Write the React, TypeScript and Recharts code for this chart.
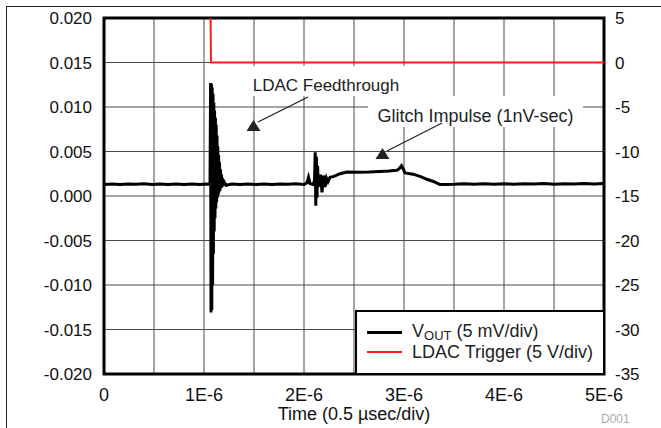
import React from 'react';
import {
  ComposedChart, Line, XAxis, YAxis, CartesianGrid, Legend,
  ReferenceArea, ReferenceDot, Label,
} from 'recharts';

const FONT = '"Liberation Sans", Arial, sans-serif';

// axis ticks (time in µs, left axis in V, right axis in V)
const timeTicks = [0, 0.5, 1, 1.5, 2, 2.5, 3, 3.5, 4, 4.5, 5];
const timeTickLabels = ['0', '', '1E-6', '', '2E-6', '', '3E-6', '', '4E-6', '', '5E-6'];
const voutTicks = [0.02, 0.015, 0.01, 0.005, 0, -0.005, -0.01, -0.015, -0.02];
const trigTicks = [5, 0, -5, -10, -15, -20, -25, -30, -35];
const seriesNames = ['VOUT (5 mV/div)', 'LDAC Trigger (5 V/div)'];

// VOUT trace
const voutTime = [
  0, 0.08, 0.16, 0.24, 0.32, 0.4, 0.48, 0.56, 0.64, 0.72, 0.8, 0.88, 0.96, 1.02, 1.06,
  1.066, 1.07, 1.074, 1.078, 1.082, 1.086, 1.09, 1.094, 1.098, 1.102, 1.106, 1.11,
  1.114, 1.118, 1.122, 1.126, 1.13, 1.134, 1.138, 1.142, 1.146, 1.15, 1.155, 1.16,
  1.165, 1.17, 1.175, 1.18, 1.186, 1.192, 1.2, 1.22,
  1.28, 1.36, 1.44, 1.52, 1.6, 1.68, 1.76, 1.84, 1.92, 2.0, 2.03,
  2.045, 2.06, 2.09, 2.105, 2.112, 2.118, 2.124, 2.13, 2.136, 2.142, 2.15,
  2.165, 2.18, 2.195, 2.21, 2.225, 2.24, 2.26, 2.3, 2.36, 2.43, 2.55, 2.65, 2.76,
  2.85, 2.93, 2.955, 2.975, 2.99, 3.01, 3.09, 3.16, 3.23, 3.3, 3.36, 3.42,
  3.5, 3.6, 3.7, 3.8, 3.9, 4.0, 4.1, 4.2, 4.3, 4.4, 4.5, 4.6, 4.7, 4.8, 4.9, 5.0,
];
const voutLevel = [
  0.0013, 0.00136, 0.00128, 0.00134, 0.00131, 0.00137, 0.00129, 0.00135, 0.0013, 0.00136, 0.00128, 0.00134, 0.0013, 0.00135, 0.0013,
  0.0127, -0.0131, 0.0126, -0.0128, 0.0122, -0.01, 0.0115, -0.0065, 0.0105, -0.004, 0.0096, -0.0025,
  0.0088, -0.0014, 0.008, -0.0007, 0.0068, -0.0002, 0.0056, 0.0001, 0.0046, 0.0004, 0.0038, 0.0006,
  0.003, 0.0009, 0.0024, 0.001, 0.0019, 0.0012, 0.0016, 0.0012,
  0.00135, 0.00128, 0.00134, 0.0013, 0.00136, 0.00129, 0.00135, 0.00131, 0.00137, 0.0013, 0.0015,
  0.0021, 0.0014, 0.0013, 0.0017, 0.0049, -0.0011, 0.0044, -0.0002, 0.0034, 0.001, 0.0016,
  0.0024, 0.0004, 0.0023, 0.001, 0.002, 0.0016, 0.0021, 0.0022, 0.0025, 0.0027, 0.00268, 0.0027, 0.00275,
  0.0028, 0.0029, 0.0031, 0.0034, 0.0031, 0.0026, 0.00245, 0.0022, 0.00188, 0.0016, 0.00128, 0.0013,
  0.00132, 0.00138, 0.00131, 0.00137, 0.00133, 0.00139, 0.00132, 0.00138, 0.00134, 0.0014, 0.00133, 0.00139, 0.00135, 0.0014, 0.00136, 0.0014,
];

// LDAC trigger (right axis), high level sits above the top of the screen
const trigTime = [0, 1.065, 1.07, 5];
const trigLevel = [6, 6, 0, 0];

// annotation arrows: shaft start (near the text) and end (near the head)
const ldacArrowTime = [2.04, 1.54];
const ldacArrowLevel = [0.01112, 0.00831];
const glitchArrowTime = [3.38, 2.83];
const glitchArrowLevel = [0.0082, 0.00506];

const voutData = voutTime.map((t, i) => ({ t, v: voutLevel[i] }));
const trigData = trigTime.map((t, i) => ({ t, v: trigLevel[i] }));

const Arrowhead = (props: any) => {
  const { cx, cy } = props;
  return <polygon points={`${cx},${cy - 6} ${cx - 7},${cy + 5} ${cx + 7},${cy + 5}`} fill="#222" />;
};

// shaft along the diagonal of the area (top-right to bottom-left), drawn as a thin filled strip
const shaft = (props: any) => {
  const { x, y, width, height } = props;
  const x1 = x + width;
  const y1 = y;
  const x2 = x;
  const y2 = y + height;
  const len = Math.hypot(x2 - x1, y2 - y1) || 1;
  const nx = (-(y2 - y1) / len) * 0.65;
  const ny = ((x2 - x1) / len) * 0.65;
  const pts = `${x1 + nx},${y1 + ny} ${x2 + nx},${y2 + ny} ${x2 - nx},${y2 - ny} ${x1 - nx},${y1 - ny}`;
  return (
    <g>
      <polygon points={pts} fill="#222" />
    </g>
  );
};

const noteBox = (text: string, size: number) => (props: any) => {
  const { x, y, width, height } = props;
  return (
    <g>
      <rect x={x} y={y} width={width} height={height} fill="#fff" />
      <text x={x + width / 2} y={y + height - 5} textAnchor="middle" fontSize={size} fontFamily={FONT} fill="#222">
        {text}
      </text>
    </g>
  );
};

const legendName = (name: string) => {
  if (name.startsWith('VOUT')) {
    return (
      <>
        V<span style={{ fontSize: 13, position: 'relative', top: 3 }}>OUT</span>{name.slice(4)}
      </>
    );
  }
  return name;
};

const renderLegend = (props: any) => {
  const payload = (props.payload || [])
    .filter((p: any) => seriesNames.includes(p.value))
    .sort((a: any, b: any) => seriesNames.indexOf(a.value) - seriesNames.indexOf(b.value));
  return (
    <div style={{
      boxSizing: 'border-box', width: 250, height: 65, border: '2px solid #000',
      background: '#fff', padding: '10px 0 0 10px', fontFamily: FONT, fontSize: 18, color: '#222',
    }}>
      {payload.map((p: any) => (
        <div key={p.value} style={{ display: 'flex', alignItems: 'center', height: 20, lineHeight: '20px' }}>
          <span style={{
            display: 'inline-block', width: 35, height: p.color === '#000' ? 3 : 2,
            background: p.color, marginRight: 10,
          }} />
          <span>{legendName(p.value)}</span>
        </div>
      ))}
    </div>
  );
};

export default function App() {
  return (
    <div style={{ position: 'absolute', left: 0, top: 0, width: 661, height: 428, background: '#fff', overflow: 'hidden' }}>
      <div style={{
        position: 'absolute', left: 6, top: 6, width: 660, height: 430,
        borderTop: '1px solid #222', borderLeft: '1px solid #222',
      }} />
      <ComposedChart width={661} height={428} margin={{ top: 18, right: 0, bottom: 8, left: 0 }}>
        <CartesianGrid yAxisId="left" stroke="#4a4a4a" strokeWidth={1} />
        <XAxis
          dataKey="t"
          type="number"
          domain={[0, 5]}
          ticks={timeTicks}
          interval={0}
          allowDataOverflow
          axisLine={false}
          tickLine={false}
          tickSize={0}
          tickMargin={14}
          height={46}
          tick={{ fontSize: 18, fill: '#111', fontFamily: FONT }}
          tickFormatter={(_v: number, i: number) => timeTickLabels[i]}
        >
          <Label value="Time (0.5 µsec/div)" position="insideBottom" offset={0} fontSize={18} fill="#111" fontFamily={FONT} />
        </XAxis>
        <YAxis
          yAxisId="left"
          type="number"
          domain={[-0.02, 0.02]}
          ticks={voutTicks}
          interval={0}
          allowDataOverflow
          width={104}
          axisLine={false}
          tickLine={false}
          tickSize={0}
          tickMargin={12}
          tick={{ fontSize: 17, fill: '#111', fontFamily: FONT }}
          tickFormatter={(v: number) => v.toFixed(3)}
        />
        <YAxis
          yAxisId="right"
          orientation="right"
          type="number"
          domain={[-35, 5]}
          ticks={trigTicks}
          interval={0}
          allowDataOverflow
          width={57}
          axisLine={false}
          tickLine={false}
          tickSize={0}
          tickMargin={11}
          tick={{ fontSize: 17, fill: '#111', fontFamily: FONT }}
        />

        {/* annotation boxes hide the grid behind the text */}
        <ReferenceArea yAxisId="left" x1={1.38} x2={3.06} y1={0.01124} y2={0.01461} shape={noteBox('LDAC Feedthrough', 17)} />
        <ReferenceArea yAxisId="left" x1={2.64} x2={4.79} y1={0.00775} y2={0.01124} shape={noteBox('Glitch Impulse (1nV-sec)', 18)} />

        <Line
          yAxisId="left"
          data={voutData}
          dataKey="v"
          name={seriesNames[0]}
          stroke="#000"
          strokeWidth={3}
          dot={false}
          activeDot={false}
          isAnimationActive={false}
        />
        <Line
          yAxisId="right"
          data={trigData}
          dataKey="v"
          name={seriesNames[1]}
          stroke="#ff1a1a"
          strokeWidth={2}
          dot={false}
          activeDot={false}
          isAnimationActive={false}
        />

        <ReferenceArea yAxisId="left" x1={ldacArrowTime[1]} x2={ldacArrowTime[0]} y1={ldacArrowLevel[1]} y2={ldacArrowLevel[0]} shape={shaft} />
        <ReferenceArea yAxisId="left" x1={glitchArrowTime[1]} x2={glitchArrowTime[0]} y1={glitchArrowLevel[1]} y2={glitchArrowLevel[0]} shape={shaft} />
        <ReferenceDot yAxisId="left" x={1.495} y={0.00787} r={6} shape={<Arrowhead />} />
        <ReferenceDot yAxisId="left" x={2.785} y={0.00472} r={6} shape={<Arrowhead />} />

        {/* plot frame */}
        <ReferenceArea yAxisId="left" x1={0} x2={5} y1={-0.02} y2={0.02} fill="none" stroke="#000" strokeWidth={3} />

        <Legend
          layout="vertical"
          align="center"
          verticalAlign="middle"
          wrapperStyle={{ left: 355, top: 310, width: 250, height: 65 }}
          content={renderLegend}
        />
      </ComposedChart>
      <span style={{ position: 'absolute', left: 601, top: 412, fontSize: 12, color: '#aaa', fontFamily: FONT }}>D001</span>
    </div>
  );
}
